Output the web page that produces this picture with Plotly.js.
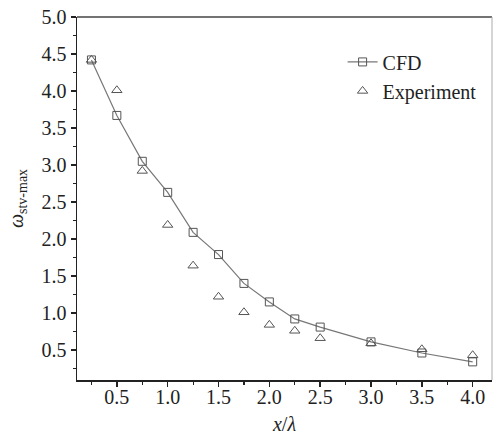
<!DOCTYPE html>
<html><head><meta charset="utf-8">
<script src="https://cdn.plot.ly/plotly-3.0.1.min.js"></script>
<style>html,body{margin:0;padding:0;background:#fff}</style>
</head><body>
<div id="chart" style="width:493px;height:435px"></div>
<script>
const xCFD = [0.25, 0.5, 0.75, 1.0, 1.25, 1.5, 1.75, 2.0, 2.25, 2.5, 3.0, 3.5, 4.0];
const yCFD = [4.42, 3.67, 3.05, 2.63, 2.09, 1.79, 1.40, 1.15, 0.92, 0.81, 0.61, 0.46, 0.34];
const xExp = [0.25, 0.5, 0.75, 1.0, 1.25, 1.5, 1.75, 2.0, 2.25, 2.5, 3.0, 3.5, 4.0];
const yExp = [4.42, 4.01, 2.92, 2.19, 1.64, 1.22, 1.01, 0.84, 0.76, 0.66, 0.59, 0.51, 0.43];
const seriesNames = ['CFD', 'Experiment'];

const font = {family: 'Liberation Serif, Times New Roman, serif', color: '#222'};
const traces = [
  {x: xCFD, y: yCFD, name: seriesNames[0], type: 'scatter', mode: 'lines+markers',
   line: {color: '#777', width: 1.2},
   marker: {symbol: 'square-open', size: 8, color: '#555', line: {width: 1}}},
  {x: xExp, y: yExp, name: seriesNames[1], type: 'scatter', mode: 'markers',
   marker: {symbol: 'triangle-up-open', size: 9, color: '#555', line: {width: 1}}}
];
const layout = {
  width: 493, height: 435,
  margin: {l: 77, r: 1, t: 17, b: 55},
  paper_bgcolor: '#fff', plot_bgcolor: '#fff',
  font: Object.assign({size: 20}, font),
  showlegend: true,
  legend: {x: 0.64, y: 0.93, xanchor: 'left', yanchor: 'top', bgcolor: 'rgba(0,0,0,0)',
           font: Object.assign({size: 20}, font), itemwidth: 30, tracegroupgap: 0},
  xaxis: {range: [0.108, 4.19], tick0: 0.5, dtick: 0.5, ticks: 'outside', ticklen: 5, tickwidth: 1.5,
          tickcolor: '#222', showline: true, linecolor: '#222', linewidth: 1.5, showgrid: false, zeroline: false,
          tickformat: '.1f', ticklabelstandoff: -7,
          minor: {tick0: 0.25, dtick: 0.25, ticks: 'outside', ticklen: 3, tickwidth: 1.2, tickcolor: '#222', showgrid: false},
          title: {text: '<i>x</i>/<i>λ</i>', font: Object.assign({size: 20}, font), standoff: 12}},
  yaxis: {range: [0.095, 5.0], tick0: 0, dtick: 0.5, ticks: 'outside', ticklen: 5, tickwidth: 1.5,
          tickcolor: '#222', showline: true, linecolor: '#222', linewidth: 1.5, showgrid: false, zeroline: false,
          tickformat: '.1f',
          minor: {dtick: 0.25, ticks: 'outside', ticklen: 3, tickwidth: 1.2, tickcolor: '#222', showgrid: false},
          title: {text: '<i>ω</i><sub>stv-max</sub>', font: Object.assign({size: 20}, font), standoff: 12}},
  shapes: [
    {type: 'line', xref: 'paper', yref: 'paper', x0: 0, x1: 1, y0: 1, y1: 1, line: {color: '#444', width: 1.5}},
    {type: 'line', xref: 'paper', yref: 'paper', x0: 1, x1: 1, y0: 0, y1: 1, line: {color: '#aaa', width: 1}}
  ]
};
Plotly.newPlot('chart', traces, layout, {displayModeBar: false, staticPlot: true});
</script>
</body></html>
